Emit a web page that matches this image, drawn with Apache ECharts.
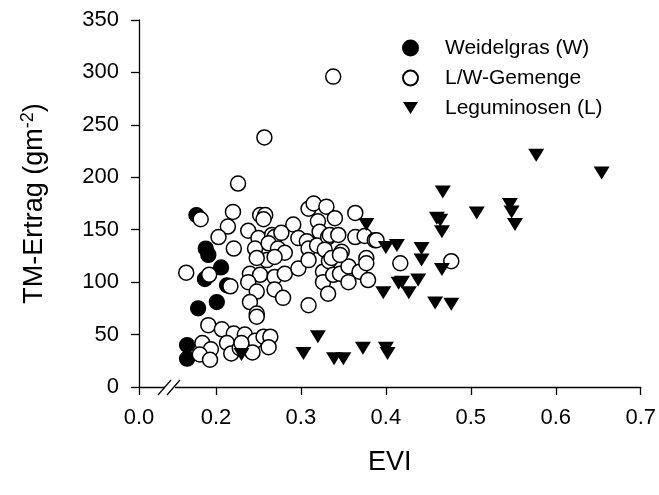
<!DOCTYPE html>
<html><head><meta charset="utf-8">
<script src="https://cdn.jsdelivr.net/npm/echarts@6/dist/echarts.min.js"></script>
<style>html,body{margin:0;padding:0;background:#fff}#c{width:659px;height:495px}</style>
</head><body><div id="c"></div>
<script>
// EVI (x) vs TM-Ertrag (y)
const weidelgras = [
  [0.177,164],[0.188,132],[0.191,126],[0.206,114],[0.187,103],[0.213,97],
  [0.179,75],[0.201,81],[0.166,40],[0.166,27]
];
const gemenge = [
  [0.338,296],[0.257,238],[0.226,194],
  [0.182,160],[0.220,167],[0.214,153],[0.203,143],[0.221,132],[0.165,109],[0.192,107],[0.217,96],
  [0.238,149],[0.252,164],[0.258,164],[0.256,160],
  [0.250,142],[0.266,145],[0.269,143],[0.246,132],[0.262,137],[0.273,132],[0.281,128],[0.291,155],
  [0.297,142],[0.307,139],[0.309,132],[0.309,170],[0.315,175],[0.330,172],[0.320,158],[0.322,148],
  [0.319,135],[0.332,143],[0.328,131],
  [0.260,121],[0.269,124],[0.277,147],
  [0.240,108],[0.252,107],[0.238,100],[0.269,105],[0.281,108],[0.297,113],[0.309,121],[0.326,110],
  [0.326,100],[0.332,89],
  [0.248,91],[0.269,93],[0.279,85],[0.240,81],[0.248,70],[0.248,67],[0.309,78],
  [0.248,123],[0.333,120],[0.338,107],
  [0.340,161],[0.364,166],[0.334,145],[0.344,145],[0.348,129],[0.364,143],[0.375,144],[0.387,140],[0.389,140],
  [0.346,108],[0.356,115],[0.369,110],[0.377,123],[0.377,118],[0.356,100],[0.379,102],[0.417,118],[0.477,120],
  [0.336,123],[0.346,126],
  [0.191,59],[0.207,55],[0.221,51],[0.234,50],[0.246,44],[0.256,48],[0.264,48],[0.262,38],[0.243,33],
  [0.213,42],[0.184,42],[0.194,36],[0.181,31],[0.193,26],[0.218,32],[0.228,37],[0.230,42]
];
const leguminosen = [
  [0.577,221],[0.654,204],[0.467,186],[0.507,166],[0.546,174],[0.548,167],[0.552,155],
  [0.460,161],[0.464,159],[0.466,148],[0.377,155],[0.400,133],[0.413,135],[0.442,132],[0.442,121],
  [0.466,112],[0.415,99],[0.419,100],[0.438,102],[0.397,90],[0.427,90],[0.458,80],[0.477,79],
  [0.320,48],[0.303,32],[0.339,27],[0.350,27],[0.373,37],[0.400,37],[0.402,32],[0.230,31]
];
const xTicks = [0.2,0.3,0.4,0.5,0.6,0.7];
const xOrigin = 0.1094;   // start of the broken axis, labelled "0.0"
const xMax = 0.7;
const yMin = 0, yMax = 350, yStep = 50;

const FONT = 'Liberation Sans, Arial, sans-serif';
const chart = echarts.init(document.getElementById('c'), null, {renderer:'canvas'});
const axisCommon = {
  axisLine:{show:true, lineStyle:{color:'#000', width:1.3}},
  axisTick:{show:true, inside:false, length:8, lineStyle:{color:'#000', width:1.3}},
  splitLine:{show:false},
};
const tri = 'path://M0,0L16,0L8,13Z';
chart.setOption({
  animation:false,
  backgroundColor:'#fff',
  grid:{left:139, right:18, top:20, bottom:108, containLabel:false},
  legend:{
    orient:'vertical', left:397, top:31, itemGap:6, itemWidth:15, itemHeight:15,
    textStyle:{fontFamily:FONT, fontSize:21, color:'#000', lineHeight:24, padding:[0,0,0,22]},
    data:[
      {name:'Weidelgras (W)', icon:'circle'},
      {name:'L/W-Gemenge', icon:'circle'},
      {name:'Leguminosen (L)', icon:tri}
    ]
  },
  xAxis:Object.assign({}, axisCommon, {
    type:'value', min:xOrigin, max:xMax,
    axisTick:Object.assign({}, axisCommon.axisTick, {customValues:[xOrigin].concat(xTicks)}),
    axisLabel:{customValues:[xOrigin].concat(xTicks), margin:20, fontFamily:FONT, fontSize:22, color:'#000',
      formatter:v => Math.abs(v - xOrigin) < 1e-6 ? '0.0' : v.toFixed(1)},
    name:'EVI', nameLocation:'middle', nameGap:62,
    nameTextStyle:{fontFamily:FONT, fontSize:27, color:'#000'}
  }),
  yAxis:Object.assign({}, axisCommon, {
    type:'value', min:yMin, max:yMax, interval:yStep,
    axisLabel:{margin:20, fontFamily:FONT, fontSize:22, color:'#000'},
    name:'TM-Ertrag (gm{sup|-2})', nameLocation:'middle', nameGap:88,
    nameTextStyle:{fontFamily:FONT, fontSize:27, color:'#000',
      rich:{sup:{fontFamily:FONT, fontSize:18, color:'#000', padding:[0,0,14,0]}}}
  }),
  series:[
    {name:'Weidelgras (W)', type:'scatter', data:weidelgras, symbol:'circle', symbolSize:15,
     itemStyle:{color:'#000', borderColor:'#000', borderWidth:1.3, opacity:1}},
    {name:'L/W-Gemenge', type:'scatter', data:gemenge, symbol:'circle', symbolSize:15,
     itemStyle:{color:'#fff', borderColor:'#000', borderWidth:1.5, opacity:1}},
    {name:'Leguminosen (L)', type:'scatter', data:leguminosen, symbol:tri, symbolSize:[16,13],
     itemStyle:{color:'#000', borderColor:'#000', borderWidth:0, opacity:1}}
  ]
});
// axis break marks "//" on the x axis, placed relative to the axis origin
const o = chart.convertToPixel({xAxisIndex:0, yAxisIndex:0}, [xOrigin, yMin]);
const bx = o[0] + 31, by = o[1];
chart.setOption({graphic:[
  {type:'rect', shape:{x:bx-5, y:by-3, width:10, height:6}, style:{fill:'#fff'}, z:100},
  {type:'line', shape:{x1:bx-12, y1:by+8, x2:bx+1, y2:by-7}, style:{stroke:'#000', lineWidth:1.2}, z:101},
  {type:'line', shape:{x1:bx-3, y1:by+8, x2:bx+10, y2:by-7}, style:{stroke:'#000', lineWidth:1.2}, z:101}
]});
</script></body></html>
